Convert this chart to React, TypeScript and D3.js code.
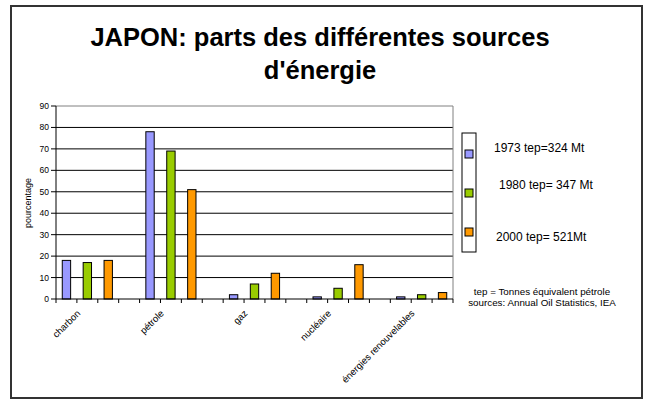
import React from "react";
import * as d3 from "d3";

const categories = ["charbon", "pétrole", "gaz", "nucléaire", "énergies renouvelables"];
const seriesNames = ["1973 tep=324 Mt", "1980 tep= 347 Mt", "2000 tep= 521Mt"];
const values1973 = [18, 78, 2, 1, 1];
const values1980 = [17, 69, 7, 5, 2];
const values2000 = [18, 51, 12, 16, 3];
const yTicks = [0, 10, 20, 30, 40, 50, 60, 70, 80, 90];
const colors = ["#9999FF", "#99CC00", "#FF9900"];
const notes = ["tep = Tonnes équivalent pétrole", "sources: Annual Oil Statistics, IEA"];

const W = 648;
const H = 400;
const FONT = "'Liberation Sans', Arial, sans-serif";

export default function App() {
  const allSeries = [values1973, values1980, values2000];
  const slotsPerGroup = 4;
  const nSlots = categories.length * slotsPerGroup - 1;
  const x = d3.scaleBand<number>().domain(d3.range(nSlots)).range([56, 453]).padding(0);
  const y = d3.scaleLinear().domain([0, 90]).range([299, 106]);
  const bw = x.bandwidth();
  const barW = bw * 0.4;

  const bars: { key: string; x: number; y: number; w: number; h: number; color: string }[] = [];
  allSeries.forEach((vals, si) => {
    vals.forEach((v, ci) => {
      const slot = ci * slotsPerGroup + si;
      const cx = (x(slot) as number) + bw / 2;
      bars.push({
        key: `${si}-${ci}`,
        x: cx - barW / 2,
        y: y(v),
        w: barW,
        h: y(0) - y(v),
        color: colors[si],
      });
    });
  });

  const tickXs = d3.range(nSlots + 1).map((i) => (i < nSlots ? (x(i) as number) : 453));
  const legendY = [154, 193, 232];
  const legendTextPos = [
    { x: 494, y: 152 },
    { x: 499, y: 189 },
    { x: 496, y: 241 },
  ];

  return (
    <svg
      width={W}
      height={H}
      style={{ position: "absolute", left: 0, top: 0, background: "#fff" }}
      fontFamily={FONT}
    >
      <rect x={0} y={0} width={W} height={H} fill="#fff" />
      <rect x={11} y={6} width={631} height={392} fill="none" stroke="#333" strokeWidth={2} />

      <text x={320} y={46} textAnchor="middle" fontSize={25.5} fontWeight="bold" fill="#000">
        JAPON: parts des différentes sources
      </text>
      <text x={320} y={79} textAnchor="middle" fontSize={25.5} fontWeight="bold" fill="#000">
        d'énergie
      </text>

      {/* gridlines */}
      {yTicks.slice(1, -1).map((t) => (
        <line key={`g${t}`} x1={56} x2={453} y1={y(t)} y2={y(t)} stroke="#000" strokeWidth={1} />
      ))}
      {/* plot frame */}
      <line x1={56} x2={453} y1={y(90)} y2={y(90)} stroke="#808080" strokeWidth={1} />
      <line x1={453} x2={453} y1={y(90)} y2={y(0)} stroke="#808080" strokeWidth={1} />

      {/* bars */}
      {bars.map((b) => (
        <rect key={b.key} x={b.x} y={b.y} width={b.w} height={b.h} fill={b.color} stroke="#000" strokeWidth={1} />
      ))}

      {/* y axis */}
      <line x1={56} x2={56} y1={y(90)} y2={y(0)} stroke="#000" strokeWidth={1} />
      {yTicks.map((t) => (
        <g key={`yt${t}`}>
          <line x1={51} x2={56} y1={y(t)} y2={y(t)} stroke="#000" strokeWidth={1} />
          <text x={49} y={y(t) + 3} textAnchor="end" fontSize={8.5} fill="#000">
            {t}
          </text>
        </g>
      ))}
      <text
        transform={`translate(31, 203) rotate(-90)`}
        textAnchor="middle"
        fontSize={9}
        fill="#000"
      >
        pourcentage
      </text>

      {/* x axis */}
      <line x1={56} x2={453} y1={y(0)} y2={y(0)} stroke="#000" strokeWidth={1} />
      {tickXs.map((tx, i) => (
        <line key={`xt${i}`} x1={tx} x2={tx} y1={y(0)} y2={y(0) + 4} stroke="#000" strokeWidth={1} />
      ))}
      {categories.map((c, ci) => {
        const ax = (x(ci * slotsPerGroup + 1) as number) + 4;
        const ay = 314;
        return (
          <text
            key={c}
            transform={`translate(${ax}, ${ay}) rotate(-45)`}
            textAnchor="end"
            fontSize={9.5}
            fill="#000"
          >
            {c}
          </text>
        );
      })}

      {/* legend */}
      <rect x={462} y={133} width={14} height={119} fill="#fff" stroke="#000" strokeWidth={1} />
      {seriesNames.map((s, si) => (
        <g key={s}>
          <rect x={465} y={legendY[si] - 4} width={8} height={8} fill={colors[si]} stroke="#000" strokeWidth={1} />
          <text x={legendTextPos[si].x} y={legendTextPos[si].y} fontSize={12} fill="#000">
            {s}
          </text>
        </g>
      ))}

      {notes.map((n, i) => (
        <text key={n} x={542} y={295 + i * 11} textAnchor="middle" fontSize={9.8} fill="#000">
          {n}
        </text>
      ))}
    </svg>
  );
}
